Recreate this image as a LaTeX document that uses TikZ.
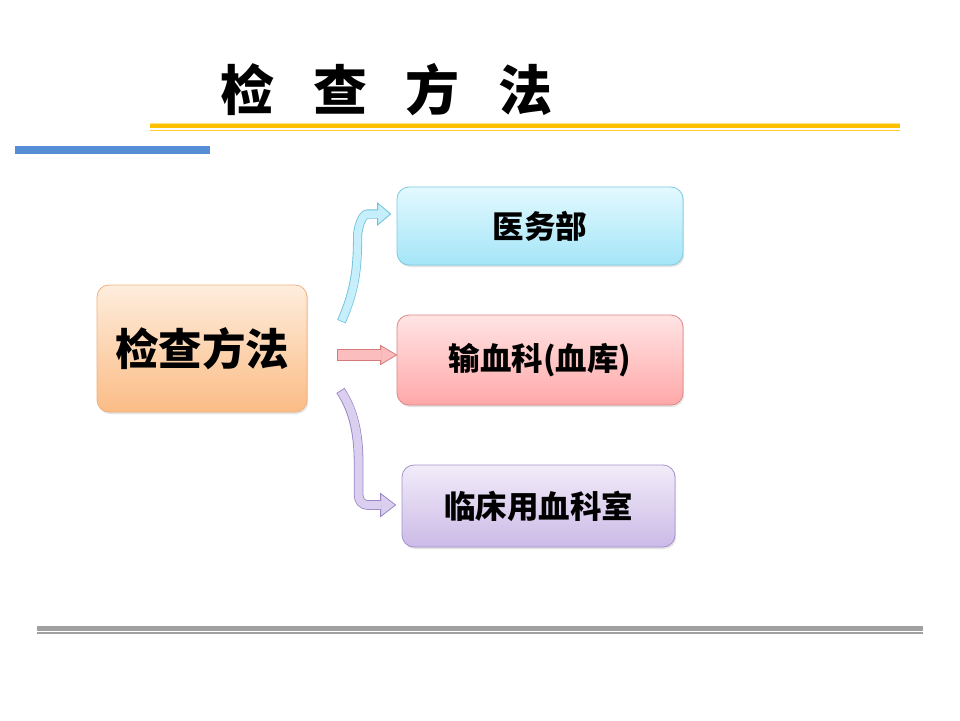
\documentclass[tikz,border=0pt]{standalone}
\usepackage{fontspec}
\newfontfamily\cjk{Noto Sans CJK SC Black}
\usetikzlibrary{shadows,calc}
\definecolor{ttlyellow}{HTML}{FFC000}
\definecolor{barblue}{HTML}{558ED5}
\definecolor{linegray}{HTML}{A0A0A0}
\definecolor{orTop}{HTML}{FEEDDD}
\definecolor{orBot}{HTML}{FBBC85}
\definecolor{orBd}{HTML}{F0B07E}
\definecolor{cyTop}{HTML}{E3F9FE}
\definecolor{cyBot}{HTML}{A4E5F8}
\definecolor{cyBd}{HTML}{7CCAE0}
\definecolor{pkTop}{HTML}{FFE4E4}
\definecolor{pkBot}{HTML}{FFA8A8}
\definecolor{pkBd}{HTML}{DE8686}
\definecolor{puTop}{HTML}{F2ECF9}
\definecolor{puBot}{HTML}{CBBAE7}
\definecolor{puBd}{HTML}{A393CC}
\definecolor{cyArF}{HTML}{C6EFFB}
\definecolor{cyArB}{HTML}{6EC1DA}
\definecolor{pkArF}{HTML}{FBBDBD}
\definecolor{pkArB}{HTML}{D67B7B}
\definecolor{puArF}{HTML}{DBCFF0}
\definecolor{puArB}{HTML}{9A86C6}
\tikzset{
  box/.style={rounded corners=12pt, line width=0.8pt, inner sep=0pt,
    drop shadow={opacity=0.22, shadow xshift=1.2pt, shadow yshift=-2pt},
    font=\cjk\fontsize{31.5}{35}\selectfont},
}
\begin{document}
\begin{tikzpicture}[x=1pt,y=-1pt]
\useasboundingbox (0,0) rectangle (960,720);
\fill[white] (0,0) rectangle (960,720);
% title
\node[font=\cjk\fontsize{54}{60}\selectfont, inner sep=0pt] (title) at (386.5,90)
  {检\hspace{0.72em}查\hspace{0.72em}方\hspace{0.72em}法};
% yellow lines
\fill[ttlyellow!45] (150,122.5) rectangle (900,123.5);
\fill[ttlyellow] (150,123.5) rectangle (900,128);
\fill[ttlyellow!80] (150,129.5) rectangle (900,131);
% blue bar
\fill[barblue] (15,146) rectangle (210,153.5);
% bottom gray lines
\fill[linegray] (37,625.7) rectangle (923,630.7);
\fill[linegray] (37,632.3) rectangle (923,634);
% nodes
\node[box, draw=orBd, top color=orTop, bottom color=orBot, minimum width=210pt, minimum height=127pt,
  font=\cjk\fontsize{43.5}{48}\selectfont] (main) at (202,348.5) {检查方法};
\node[box, draw=cyBd, top color=cyTop, bottom color=cyBot, minimum width=286pt, minimum height=78pt] (a) at (540,226) {医务部};
\node[box, draw=pkBd, top color=pkTop, bottom color=pkBot, minimum width=286pt, minimum height=90pt] (b) at (540,360) {输血科(血库)};
\node[box, draw=puBd, top color=puTop, bottom color=puBot, minimum width=273pt, minimum height=82pt] (c) at (538.5,506) {临床用血科室};
% arrow anchor coordinates
\coordinate (s1) at ($(main.east)+(34,-27)$);
\coordinate (e1) at ($(a.west)+(-6,-12)$);
\coordinate (s2) at ($(main.east)+(30,6.5)$);
\coordinate (e2) at ($(b.west)+(0,-5)$);
\coordinate (s3) at ($(main.east)+(33,42)$);
\coordinate (e3) at ($(c.west)+(-6,-1)$);
% upper arrow (cyan)
\draw[cyArB, line width=9.1pt] (s1) .. controls +(13,-30) and +(0,35) .. ($(e1)+(-33,22)$)
  .. controls +(0,-7) and +(-6,0) .. ($(e1)+(-23,0)$) -- ($(e1)+(-11,0)$);
\filldraw[fill=cyArF, draw=cyArB, line width=0.8pt] ($(e1)+(-13,-11)$) -- (e1) -- ($(e1)+(-13,11)$) -- cycle;
\draw[cyArF, line width=7.5pt] ($(s1)+(0.3,-0.6)$) .. controls +(13,-30) and +(0,35) .. ($(e1)+(-33,22)$)
  .. controls +(0,-7) and +(-6,0) .. ($(e1)+(-23,0)$) -- ($(e1)+(-10.5,0)$);
% middle arrow (pink)
\draw[pkArB, line width=11.6pt] (s2) -- ($(e2)+(-15,0)$);
\filldraw[fill=pkArF, draw=pkArB, line width=0.8pt] ($(e2)+(-16,-9.5)$) -- (e2) -- ($(e2)+(-16,9.5)$) -- cycle;
\draw[pkArF, line width=10pt] ($(s2)+(0.8,0)$) -- ($(e2)+(-15.5,0)$);
% lower arrow (purple)
\draw[puArB, line width=9.6pt] (s3) .. controls +(12,18) and +(0,-32) .. ($(e3)+(-37,-42)$)
  -- ($(e3)+(-37,-10)$) .. controls +(0,6) and +(-5,0) .. ($(e3)+(-28,0)$) -- ($(e3)+(-14,0)$);
\filldraw[fill=puArF, draw=puArB, line width=0.8pt] ($(e3)+(-15,-11.5)$) -- (e3) -- ($(e3)+(-15,11.5)$) -- cycle;
\draw[puArF, line width=8pt] ($(s3)+(0.5,0.7)$) .. controls +(12,18) and +(0,-32) .. ($(e3)+(-37,-42)$)
  -- ($(e3)+(-37,-10)$) .. controls +(0,6) and +(-5,0) .. ($(e3)+(-28,0)$) -- ($(e3)+(-14.5,0)$);
\end{tikzpicture}
\end{document}
